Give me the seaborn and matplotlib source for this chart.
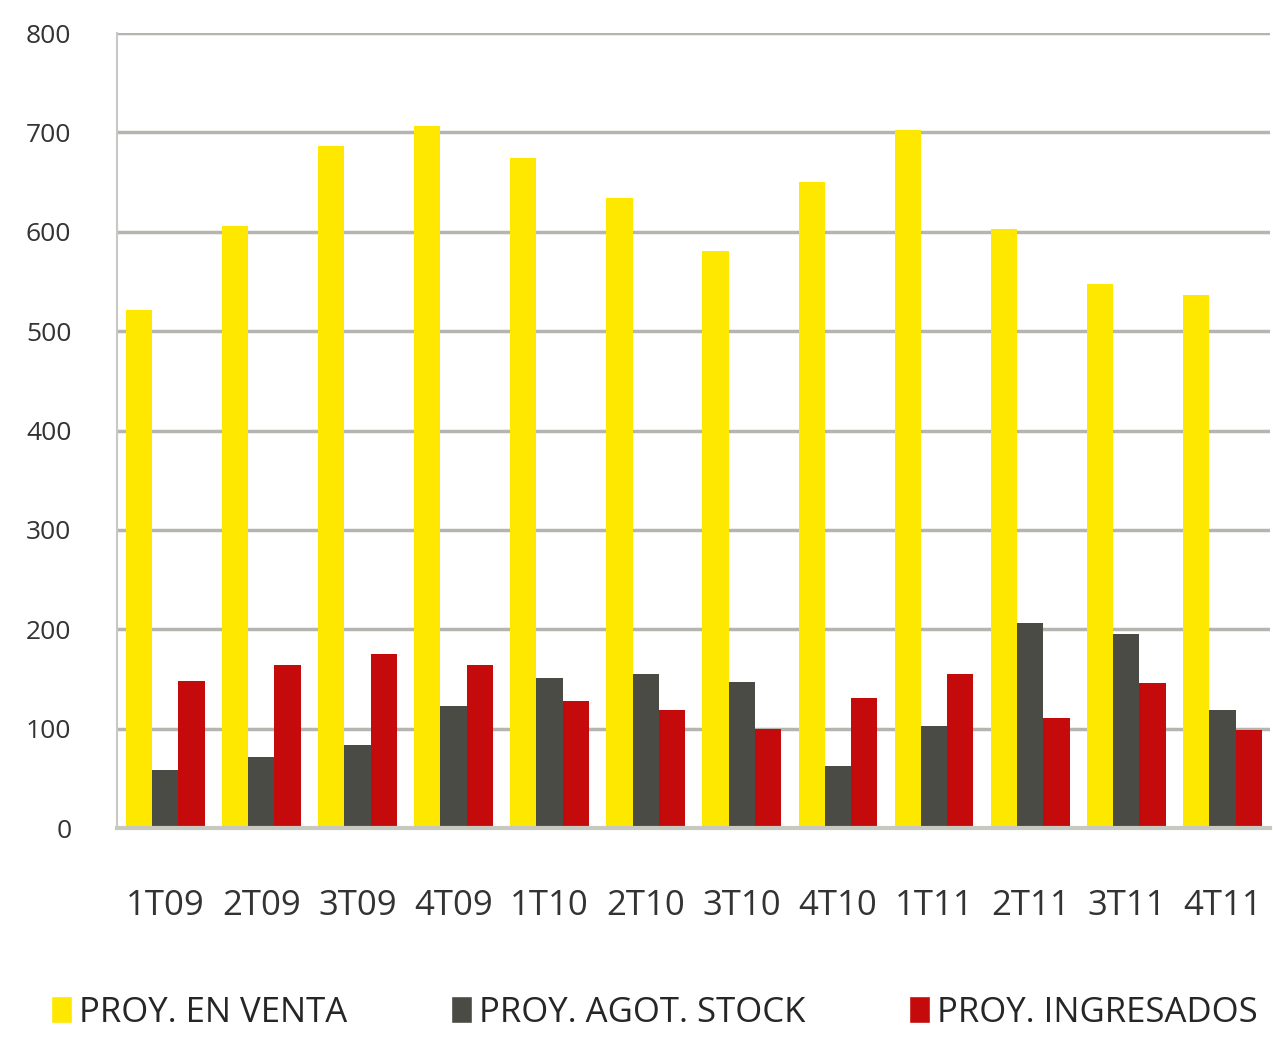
import matplotlib
matplotlib.use("Agg")
import matplotlib.pyplot as plt
import seaborn as sns
import pandas as pd
from matplotlib.patches import Patch

quarters = ["1T09", "2T09", "3T09", "4T09", "1T10", "2T10", "3T10", "4T10",
            "1T11", "2T11", "3T11", "4T11"]
en_venta = [521, 606, 686, 706, 674, 634, 581, 650, 702, 603, 547, 536]
agot_stock = [58, 71, 84, 123, 151, 155, 147, 62, 103, 206, 195, 119]
ingresados = [148, 164, 175, 164, 128, 119, 100, 131, 155, 111, 146, 99]
series_names = ["PROY. EN VENTA", "PROY. AGOT. STOCK", "PROY. INGRESADOS"]
colors = ["#FFE800", "#4B4B45", "#C40A0A"]
y_ticks = [0, 100, 200, 300, 400, 500, 600, 700, 800]

df = pd.DataFrame({
    "quarter": quarters * 3,
    "value": en_venta + agot_stock + ingresados,
    "series": [series_names[0]] * 12 + [series_names[1]] * 12 + [series_names[2]] * 12,
})

sns.set_theme(style="white")
plt.rcParams["font.family"] = ["Open Sans", "DejaVu Sans"]

fig = plt.figure(figsize=(12.73, 10.38), dpi=100)
ax = fig.add_axes([0.092, 0.2023, 0.906, 0.7659])
sns.barplot(data=df, x="quarter", y="value", hue="series", palette=colors,
            width=0.82, saturation=1, linewidth=0, ax=ax, legend=False)

ax.set_ylim(0, 800)
ax.set_xlim(-0.5, 11.5)
ax.set_yticks(y_ticks)
ax.set_yticklabels([str(t) for t in y_ticks], fontsize=19, color="#333333")
ax.tick_params(axis="y", length=0, pad=33)
ax.tick_params(axis="x", length=0, pad=44, labelsize=25, labelcolor="#333333")
ax.set_xlabel("")
ax.set_ylabel("")
ax.yaxis.grid(True, color="#B5B5B0", linewidth=2.5)
ax.set_axisbelow(True)
for s in ["top", "right"]:
    ax.spines[s].set_visible(False)
ax.spines["left"].set_color("#C8C8C8")
ax.spines["left"].set_linewidth(1.5)
ax.spines["bottom"].set_color("#C8C8C0")
ax.spines["bottom"].set_linewidth(3)

handles = [Patch(facecolor=c, label=n) for c, n in zip(colors, series_names)]
fig.legend(handles=handles, loc="lower center", bbox_to_anchor=(0.514, -0.022),
           ncol=3, frameon=False, handlelength=0.6, handleheight=0.8,
           handletextpad=0.2, columnspacing=3.0,
           prop={"size": 25})

fig.savefig("out.png", dpi=100)
